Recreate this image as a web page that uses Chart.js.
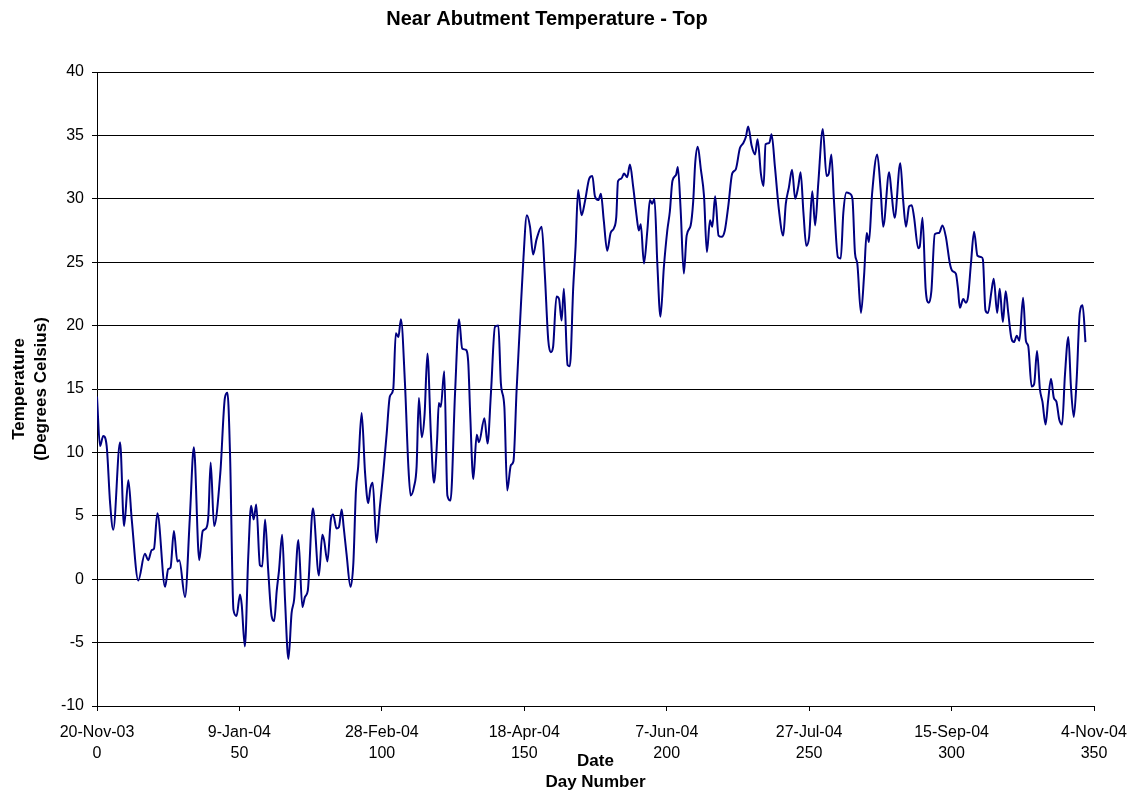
<!DOCTYPE html>
<html>
<head>
<meta charset="utf-8">
<title>Near Abutment Temperature - Top</title>
<script src="https://cdn.jsdelivr.net/npm/chart.js@4.4.1/dist/chart.umd.min.js"></script>
<style>
  html, body { margin: 0; padding: 0; background: #fff; }
  #chart { display: block; }
</style>
</head>
<body>
<canvas id="chart" width="1133" height="792"></canvas>
<script>
// ------------ DATA ------------

// day numbers (from 20-Nov-03) and temperatures
const days = [
  0, 1.05, 2.2, 3.4, 4.6, 5.7, 8.1, 9.5, 11, 12.2, 14.5, 16.8, 18, 19.2, 20, 21.2,
  23.9, 25, 25.8, 27, 28.2, 28.9, 30.9, 32.6, 34, 35.9, 37.1, 38.3, 39.1, 39.9, 41.1, 43.3,
  44.9, 45.8, 46.7, 47.9, 49, 50.2, 50.8, 51.9, 53.1, 54.1, 55, 55.9, 57.2, 58, 59, 60.1,
  61.3, 62.2, 63.1, 63.9, 65, 66, 67.2, 68.3, 69.2, 70.7, 72.1, 73, 74, 75.8, 77.9, 79.1,
  79.7, 80.9, 82.1, 82.9, 84.1, 84.9, 85.9, 86.6, 87.6, 89, 90, 90.9, 91.7, 92.9, 94.1, 95.2,
  96, 96.8, 98.1, 99.3, 100.5, 101.7, 102.8, 104, 104.9, 105.8, 106.7, 108.1, 109.3, 110.1, 111.3, 112.2,
  113, 114, 115, 116, 117.2, 118.3, 119.4, 120, 120.7, 121.9, 123, 124.1, 125.7, 127.1, 128.2, 129.4,
  130.3, 131, 132.1, 133.3, 134.1, 136, 137.1, 138.3, 139.7, 140.9, 141.8, 143, 144, 145.3, 146.2, 147.3,
  148.5, 149.6, 150.9, 152, 153.1, 154.3, 156.1, 157.2, 158.4, 159.3, 160.1, 161.3, 162.2, 163.1, 163.9, 165.2,
  166, 167.2, 168, 168.9, 170.1, 171.3, 172.8, 173.9, 174.8, 176, 176.9, 177.9, 179.1, 180.3, 181.5, 182.3,
  182.9, 184.1, 185, 186.1, 187.1, 188.2, 189.4, 190.2, 190.9, 192, 193.2, 194.1, 194.9, 195.7, 196.7, 197.8,
  199, 200.2, 201.1, 202, 203.3, 203.9, 204.9, 206, 207, 208.4, 209.3, 210, 210.9, 212, 213.1, 214.1,
  215.2, 216, 217, 218.2, 219.3, 220.4, 221.6, 223, 224.2, 225.7, 226.9, 227.8, 228.6, 229.8, 231, 231.9,
  233.1, 234, 234.7, 236, 236.8, 238, 239.4, 240.9, 241.8, 242.9, 244, 245.1, 246.2, 247, 248, 249,
  250, 251.1, 252.1, 253.2, 254.8, 256.1, 256.9, 257.8, 258.7, 260.1, 261.1, 262, 263.1, 264.3, 265.2, 266.1,
  266.9, 268.2, 269.3, 270.2, 271, 272.1, 273.9, 275.1, 276, 278.1, 278.9, 280, 282, 283, 284, 285.1,
  286, 286.8, 288.3, 288.8, 289.8, 290.9, 292, 292.9, 294.1, 295.6, 296.8, 298, 299.4, 300.3, 301.5, 302.3,
  302.9, 304.1, 305, 305.8, 306.8, 307.9, 309.1, 310.5, 311, 311.9, 312.8, 314, 314.8, 316, 316.9, 318,
  319, 319.9, 321, 321.9, 322.9, 323.8, 325.1, 326.1, 326.9, 328.1, 329, 330, 331, 331.9, 333, 333.9,
  334.9, 335.9, 336.8, 337.8, 338.8, 339.8, 341, 341.9, 342.9, 343.9, 345, 346, 347
];

const temps = [
  14.4, 10.5, 11.3, 10.5, 6.0, 3.9, 10.8, 4.2, 7.8, 4.7, -0.1, 2.0, 1.5, 2.3, 2.4, 5.2,
  -0.6, 0.8, 0.9, 3.8, 1.4, 1.5, -1.4, 4.9, 10.4, 1.5, 3.8, 4.0, 5.0, 9.2, 4.2, 8.4,
  14.3, 14.7, 9.9, -2.4, -2.9, -1.2, -2.0, -5.3, 1.8, 5.8, 4.7, 5.9, 1.1, 1.0, 4.7, 0.7,
  -2.9, -3.3, -0.9, 0.7, 3.5, -1.6, -6.3, -2.7, -1.6, 3.1, -2.2, -1.4, -0.9, 5.6, 0.3, 3.5,
  3.1, 1.4, 4.7, 5.1, 4.0, 4.1, 5.5, 4.1, 2.0, -0.6, 1.3, 7.0, 8.9, 13.1, 8.4, 6.0,
  7.2, 7.6, 2.9, 5.7, 8.4, 11.5, 14.4, 15.0, 19.4, 19.1, 20.5, 15.5, 8.9, 6.6, 7.3, 8.9,
  14.3, 11.2, 13.0, 17.8, 11.5, 7.6, 11.0, 13.9, 13.6, 16.4, 6.6, 6.2, 14.7, 20.5, 18.2, 18.1,
  17.2, 13.1, 7.9, 11.4, 10.8, 12.7, 10.7, 14.7, 19.9, 20.0, 15.4, 13.6, 7.0, 9.0, 9.3, 14.9,
  20.2, 24.9, 28.7, 27.8, 25.6, 26.8, 27.8, 24.1, 18.9, 17.9, 18.3, 22.3, 22.1, 20.4, 22.9, 16.9,
  16.8, 23.1, 26.2, 30.7, 28.7, 29.8, 31.6, 31.8, 30.2, 29.9, 30.4, 28.3, 25.9, 27.3, 27.7, 28.6,
  31.4, 31.6, 32.0, 31.7, 32.7, 31.0, 28.7, 27.5, 28.0, 24.9, 27.5, 29.9, 29.6, 30.0, 24.9, 20.7,
  24.6, 27.5, 29.0, 31.4, 31.9, 32.5, 29.1, 24.1, 27.1, 27.9, 29.8, 32.8, 34.1, 32.3, 30.2, 25.8,
  28.3, 27.8, 30.2, 27.1, 27.0, 27.5, 29.4, 32.0, 32.3, 34.0, 34.4, 34.9, 35.7, 34.2, 33.5, 34.7,
  31.9, 31.0, 34.3, 34.4, 35.1, 32.5, 29.1, 27.1, 29.6, 30.9, 32.3, 30.0, 31.0, 32.1, 28.9, 26.3,
  27.0, 30.6, 27.9, 31.2, 35.5, 31.8, 32.0, 33.5, 29.9, 25.4, 25.3, 28.9, 30.5, 30.4, 30.0, 25.7,
  24.9, 21.0, 24.0, 27.3, 26.6, 30.4, 33.5, 30.7, 27.8, 32.1, 30.5, 28.5, 32.8, 29.9, 27.8, 29.4,
  29.5, 28.6, 26.1, 26.2, 28.5, 22.9, 21.8, 22.7, 27.2, 27.3, 27.9, 27.0, 24.9, 24.3, 24.1, 22.8,
  21.4, 22.1, 21.8, 22.3, 24.9, 27.4, 25.5, 25.4, 25.2, 21.2, 21.0, 22.7, 23.7, 21.0, 22.9, 20.3,
  22.7, 21.0, 19.0, 18.7, 19.2, 18.8, 22.2, 18.8, 18.4, 15.2, 15.4, 18.0, 15.0, 14.0, 12.2, 14.1,
  15.8, 14.3, 14.0, 12.6, 12.2, 16.1, 19.1, 15.2, 12.8, 15.7, 21.0, 21.6, 18.7
];

// x axis ticks: day number and the matching date
const dayTicks = [0, 50, 100, 150, 200, 250, 300, 350];
const dateLabels = ['20-Nov-03', '9-Jan-04', '28-Feb-04', '18-Apr-04', '7-Jun-04', '27-Jul-04', '15-Sep-04', '4-Nov-04'];

// y axis range
const yMin = -10;
const yMax = 40;
const yStep = 5;

// ------------ CHART ------------

const points = days.map((d, i) => ({ x: d, y: temps[i] }));

Chart.defaults.font.family = '"Liberation Sans", Arial, sans-serif';
Chart.defaults.color = '#000';

const config = {
    type: 'line',
    data: {
        datasets: [{
            label: 'Top',
            data: points,
            borderColor: '#000080',
            borderWidth: 2,
            pointRadius: 0,
            fill: false,
            cubicInterpolationMode: 'monotone'
        }]
    },
    options: {
        responsive: false,
        devicePixelRatio: 1,
        animation: false,
        layout: {
            padding: { left: 0, right: 39, top: 0, bottom: 0 }
        },
        plugins: {
            legend: { display: false },
            tooltip: { enabled: false },
            title: {
                display: true,
                text: 'Near Abutment Temperature - Top',
                font: { size: 20, weight: 'bold', lineHeight: 1.2 },
                color: '#000',
                padding: { top: 7, bottom: 41 }
            }
        },
        scales: {
            x: {
                type: 'linear',
                min: 0,
                max: 350,
                afterBuildTicks: function(scale) {
                    scale.ticks = dayTicks.map(v => ({ value: v }));
                },
                afterFit: function(scale) {
                    scale.height = 86;
                    // labels at the ends may overhang; let layout padding decide
                    scale.paddingLeft = 0;
                    scale.paddingRight = 0;
                },
                ticks: {
                    font: { size: 16, lineHeight: 1.3 },
                    color: '#000',
                    padding: 11,
                    maxRotation: 0,
                    autoSkip: false,
                    callback: function(value) {
                        const i = dayTicks.indexOf(value);
                        return [dateLabels[i], String(value)];
                    }
                },
                grid: {
                    drawOnChartArea: false,
                    drawTicks: true,
                    tickLength: 5,
                    color: '#000'
                },
                border: { display: true, color: '#000', width: 1 },
                title: {
                    display: true,
                    text: ['Date', 'Day Number'],
                    font: { size: 17, weight: 'bold', lineHeight: 1.25 },
                    color: '#000',
                    padding: { top: 0, bottom: -1 }
                }
            },
            y: {
                min: yMin,
                max: yMax,
                afterFit: function(scale) { scale.width = 97; },
                ticks: {
                    stepSize: yStep,
                    font: { size: 16 },
                    color: '#000',
                    padding: 8
                },
                grid: {
                    color: '#000',
                    lineWidth: 1,
                    tickLength: 5
                },
                border: { display: true, color: '#000', width: 1 },
                title: {
                    display: true,
                    text: ['Temperature', '(Degrees Celsius)'],
                    font: { size: 17, weight: 'bold', lineHeight: 1.3 },
                    color: '#000',
                    padding: { top: 8, bottom: 0 }
                }
            }
        }
    }
};

const ctx = document.getElementById('chart').getContext('2d');
const tempChart = new Chart(ctx, config);
</script>
</body>
</html>
